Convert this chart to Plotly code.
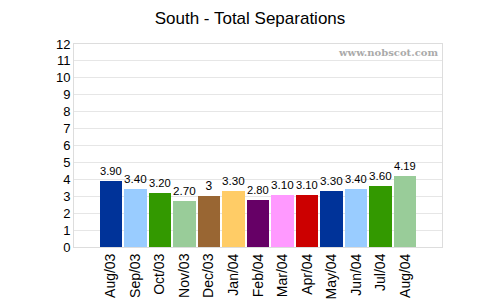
import plotly.graph_objects as go

categories = ["Aug/03", "Sep/03", "Oct/03", "Nov/03", "Dec/03", "Jan/04", "Feb/04",
              "Mar/04", "Apr/04", "May/04", "Jun/04", "Jul/04", "Aug/04"]
values = [3.90, 3.40, 3.20, 2.70, 3, 3.30, 2.80, 3.10, 3.10, 3.30, 3.40, 3.60, 4.19]
labels = ["3.90", "3.40", "3.20", "2.70", "3", "3.30", "2.80", "3.10", "3.10",
          "3.30", "3.40", "3.60", "4.19"]
colors = ["#003399", "#99CCFF", "#339900", "#99CC99", "#996633", "#FFCC66", "#660066",
          "#FF99FF", "#CC0000", "#003399", "#99CCFF", "#339900", "#99CC99"]
y_ticks = list(range(0, 13))

fig = go.Figure()
fig.add_trace(go.Bar(
    x=list(range(len(categories))), y=values, width=0.92,
    marker=dict(color=colors, line=dict(width=0)),
    text=labels, textposition="outside", cliponaxis=False,
    textfont=dict(family="Liberation Sans, Arial", size=12, color="#000"),
))
fig.update_layout(
    width=500, height=300,
    margin=dict(l=74, r=58, t=44, b=53, autoexpand=False),
    paper_bgcolor="white", plot_bgcolor="white",
    showlegend=False, bargap=0,
    title=dict(text="South - Total Separations", x=0.5, xanchor="center",
               y=1 - 18 / 300, yanchor="middle",
               font=dict(family="Liberation Sans, Arial", size=17, color="#000")),
    font=dict(family="Liberation Sans, Arial", color="#000"),
    xaxis=dict(range=[-1.5, 13.5], tickmode="array", tickvals=list(range(len(categories))),
               ticktext=categories, tickangle=-90, tickfont=dict(size=14),
               showgrid=False, zeroline=False, showline=True, linecolor="#dddddd",
               mirror=True, ticks="", ticklen=0, automargin=False),
    yaxis=dict(range=[0, 12], tickmode="array", tickvals=y_ticks,
               tickfont=dict(size=13), showgrid=True, gridcolor="#e6e6e6",
               zeroline=False, showline=True, linecolor="#dddddd", mirror=True,
               ticks="", ticklen=0, automargin=False),
    annotations=[dict(text="<b>www.nobscot.com</b>", xref="paper", yref="paper",
                      x=0.995, y=0.995, xanchor="right", yanchor="top", showarrow=False,
                      font=dict(family="DejaVu Serif", size=10, color="#aaaaaa"))],
)
fig.write_html("out.html")
